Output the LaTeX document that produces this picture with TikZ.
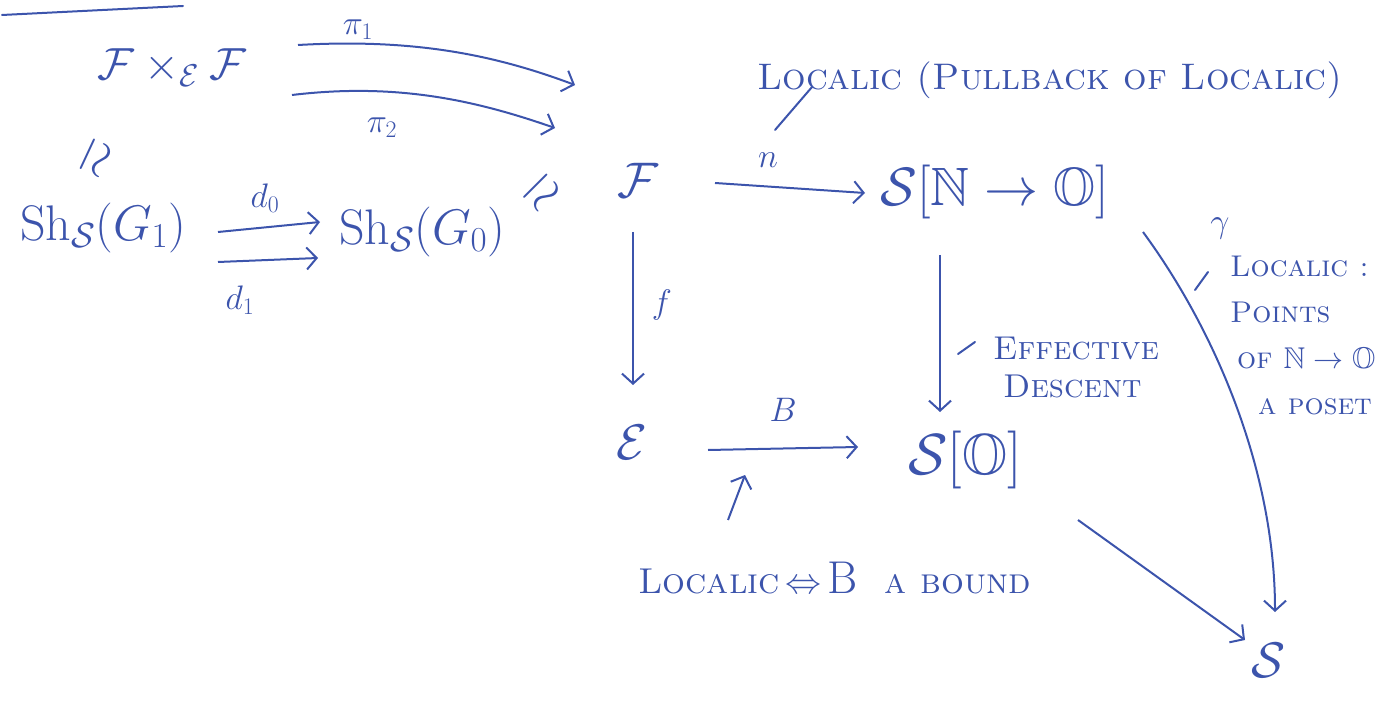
\RequirePackage{fix-cm}
\documentclass[tikz,border=0pt]{standalone}
\usepackage{amssymb}
\usepackage{graphicx}
\usetikzlibrary{arrows.meta}
\definecolor{ink}{RGB}{60,84,172}
\begin{document}
\begin{tikzpicture}[x=1pt,y=-1pt,
  every node/.style={text=ink,inner sep=0pt},
  obj/.style={font=\fontsize{50}{56}\selectfont},
  lab/.style={font=\fontsize{34}{38}\selectfont},
  note/.style={font=\fontsize{30}{46}\selectfont\scshape,align=left},
  arr/.style={draw=ink,line width=2pt,-{Straight Barb[length=10pt,width=22pt,line width=2pt]}},
  ln/.style={draw=ink,line width=2pt,line cap=round}]
\useasboundingbox (0,0) rectangle (1391,708);
\draw[ln] (2,15) -- (183,6);
% objects
\node[obj,font=\fontsize{45}{50}\selectfont] (FF) at (172,68) {$\mathcal{F}\times_{\mathcal{E}}\mathcal{F}$};
\node[obj] (G1) at (103,228) {$\mathrm{Sh}_{\mathcal{S}}(G_1)$};
\node[obj] (G0) at (422,232) {$\mathrm{Sh}_{\mathcal{S}}(G_0)$};
\node[obj] (F) at (638,180) {$\mathcal{F}$};
\node[obj,font=\fontsize{54}{60}\selectfont] (SNO) at (995,192) {$\mathcal{S}[\mathbb{N}\to\mathbb{O}]$};
\node[obj] (E) at (632,442) {$\mathcal{E}$};
\node[obj,font=\fontsize{58}{62}\selectfont] (SO) at (965,460) {$\mathcal{S}[\mathbb{O}]$};
\node[obj] (S) at (1268,660) {$\mathcal{S}$};
% isomorphism marks
\node[obj] (iso1) at (96,158) {\rotatebox{-115}{$\simeq$}};
\node[obj] (iso2) at (542,192) {\rotatebox{-135}{$\simeq$}};
% arrows
\draw[arr] ([shift={(126,-23)}]FF.center) .. controls +(122,-7) and +(-75,-28) .. ([shift={(-63,-95)}]F.center);
\draw[arr] ([shift={(120,27)}]FF.center) .. controls +(108,-13) and +(-75,-26) .. ([shift={(-83,-52)}]F.center);
\node[lab] (pi1) at (358,30) {$\pi_1$};
\node[lab] (pi2) at (382,128) {$\pi_2$};
\draw[arr] ([shift={(115,4)}]G1.center) -- ([shift={(-102,-10)}]G0.center);
\draw[arr] ([shift={(115,34)}]G1.center) -- ([shift={(-104,26)}]G0.center);
\node[lab] (d0) at (265,198) {$d_0$};
\node[lab] (d1) at (240,300) {$d_1$};
\draw[arr] ([shift={(77,3)}]F.center) -- ([shift={(-130,1)}]SNO.center);
\node[lab] (n) at (768,160) {$n$};
\draw[arr] ([shift={(-5,52)}]F.center) -- ([shift={(1,-57)}]E.center);
\node[lab] (f) at (662,305) {$f$};
\draw[arr] ([shift={(76,8)}]E.center) -- ([shift={(-107,-13)}]SO.center);
\node[lab] (B) at (783,410) {$B$};
\draw[arr] ([shift={(-55,63)}]SNO.center) -- ([shift={(-25,-48)}]SO.center);
\draw[arr] ([shift={(113,60)}]SO.center) -- ([shift={(-23,-20)}]S.center);
\draw[arr] ([shift={(148,40)}]SNO.center) .. controls +(72,98) and +(0,-142) .. ([shift={(7,-48)}]S.center);
\node[lab] (g) at (1220,228) {$\gamma$};
% annotations
\node[note,anchor=west,font=\fontsize{37}{40}\selectfont\scshape] (loc1) at (757,80) {Localic (Pullback of Localic)};
\draw[ln] ([shift={(44,-73)}]n.center) -- ([shift={(7,-30)}]n.center);
\node[note,anchor=west,font=\fontsize{33}{40}\selectfont\scshape] (ed) at (993,368) {Effective\\[-2pt]\hspace*{10pt}Descent};
\draw[ln] ([shift={(-35,-14)}]ed.west) -- ([shift={(-18,-26)}]ed.west);
\node[note,anchor=north west] (loc2) at (1230,256) {Localic :\\Points\\\hspace*{7pt}of $\mathbb{N}\to\mathbb{O}$\\\hspace*{28pt}a poset};
\draw[ln] ([shift={(-35,34)}]loc2.north west) -- ([shift={(-22,16)}]loc2.north west);
\node[note,anchor=west,font=\fontsize{36}{40}\selectfont\scshape] (loc3) at (638,578) {Localic$\,\Leftrightarrow\,${\fontsize{46}{50}\selectfont\upshape B}\ \ a bound};
\draw[arr] ([shift={(90,-58)}]loc3.west) -- ([shift={(107,-103)}]loc3.west);
\end{tikzpicture}
\end{document}
